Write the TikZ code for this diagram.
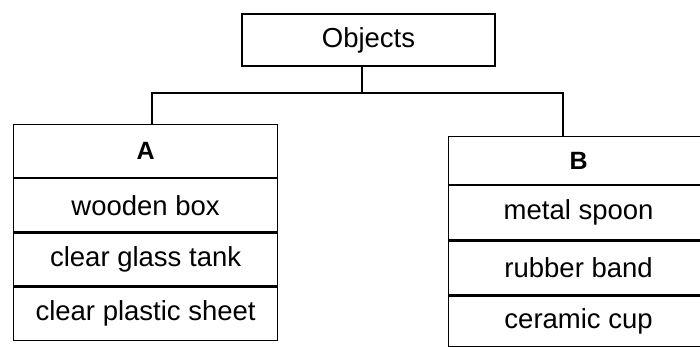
\documentclass[tikz,border=0pt]{standalone}
\usepackage{fontspec}
\setmainfont{Liberation Sans}
\usepackage{xcolor}
\usepackage[]{tikz}
\usetikzlibrary{positioning,calc}
\newcommand{\itemFont}{\fontsize{27.5}{30}\selectfont}
\newcommand{\headFont}{\fontsize{25}{28}\selectfont\bfseries}
\tikzstyle{rootBox} =[draw, rectangle, line width=1.2pt, inner sep=0pt, minimum width=253pt, minimum height=52pt, font=\itemFont]
\tikzstyle{cellA}   =[draw, rectangle, line width=1.2pt, inner sep=0pt, minimum width=264pt, minimum height=53pt, font=\itemFont]
\tikzstyle{cellB}   =[draw, rectangle, line width=1.2pt, inner sep=0pt, minimum width=260pt, minimum height=54pt, font=\itemFont]
\tikzstyle{link}    =[line width=1.2pt]
\begin{document}
\begin{tikzpicture}[x=1pt,y=1pt]
      \useasboundingbox (0,0) rectangle (700,346);
      \clip (0,0) rectangle (700,346);
      \node[rootBox] (objects) at (368.5,306) {Objects};
      % group A
      \node[cellA, anchor=north west, font=\headFont] (aHead) at (13,222) {A};
      \node[cellA] (a1) [below = 0pt of aHead] {wooden box};
      \node[cellA] (a2) [below = 0pt of a1] {clear glass tank};
      \node[cellA] (a3) [below = 0pt of a2] {clear plastic sheet};
      % group B
      \node[cellB, anchor=north west, minimum height=48pt, font=\headFont] (bHead) at (448,210) {B};
      \node[cellB] (b1) [below = 0pt of bHead] {metal spoon};
      \node[cellB] (b2) [below = 0pt of b1] {rubber band};
      \node[cellB, minimum height=50pt] (b3) [below = 0pt of b2] {ceramic cup};
      % connectors
      \coordinate (stem) at (362,253);
      \coordinate (dropA) at (152,253);
      \coordinate (dropB) at (563,253);
      \draw[link] (objects.south -| stem) -- (stem);
      \draw[link] (dropA |- aHead.north) -- (dropA) -- (dropB) -- (dropB |- bHead.north);
    \end{tikzpicture}
\end{document}
